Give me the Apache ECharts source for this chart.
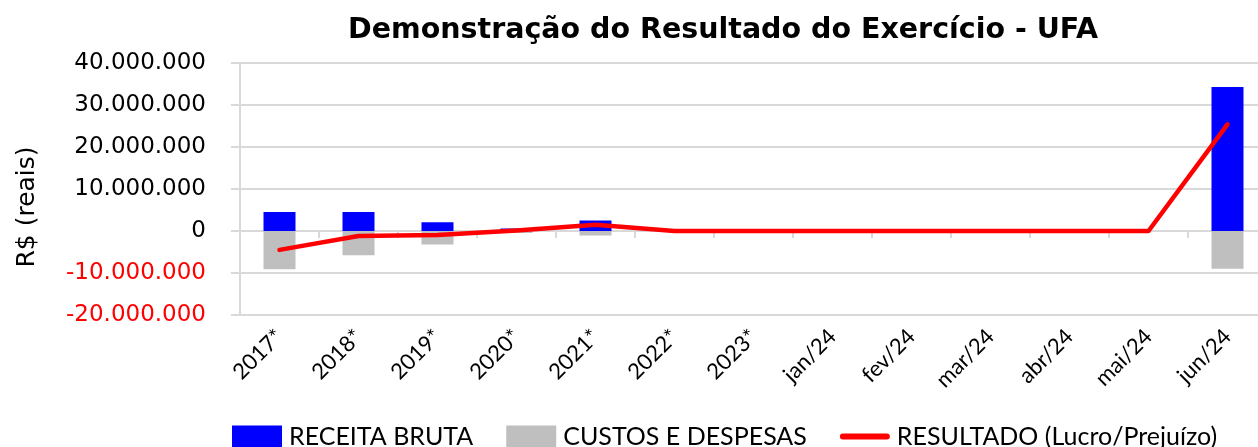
<!DOCTYPE html>
<html>
<head>
<meta charset="utf-8">
<script src="https://cdn.jsdelivr.net/npm/echarts@6/dist/echarts.min.js"></script>
<style>
  html, body { margin: 0; padding: 0; background: #fff; }
  #main { width: 1258px; height: 447px; }
</style>
</head>
<body>
<div id="main"></div>
<script>
// dados
const categorias = ['2017*', '2018*', '2019*', '2020*', '2021*', '2022*', '2023*', 'jan/24', 'fev/24', 'mar/24', 'abr/24', 'mai/24', 'jun/24'];
const receitaBruta = [4500000, 4500000, 2100000, 600000, 2500000, 0, 0, 0, 0, 0, 0, 0, 34300000];
const custosDespesas = [-9100000, -5800000, -3200000, -500000, -1100000, 0, 0, 0, 0, 0, 0, 0, -9000000];
const resultado = [-4500000, -1200000, -950000, 100000, 1500000, 0, 0, 0, 0, 0, 0, 0, 25400000];
const ticksY = [-20000000, 40000000, 10000000]; // min, max, intervalo

const fmt = v => v.toString().replace(/\B(?=(\d{3})+(?!\d))/g, '.');

const chart = echarts.init(document.getElementById('main'));

const option = {
    animation: false,
    title: {
        text: 'Demonstração do Resultado do Exercício - UFA',
        left: 343,
        top: 11,
        textStyle: {
            fontFamily: 'DejaVu Sans',
            fontWeight: 'bold',
            fontSize: 28.5,
            color: '#000'
        }
    },
    legend: {
        bottom: -2,
        left: 232,
        padding: 0,
        itemWidth: 50,
        itemHeight: 22,
        itemGap: 33,
        textStyle: {
            fontFamily: 'Lato',
            fontSize: 25,
            color: '#000',
            padding: [0, 0, 0, 2]
        },
        data: [
            { name: 'RECEITA BRUTA', icon: 'rect' },
            { name: 'CUSTOS E DESPESAS', icon: 'rect' },
            {
                name: 'RESULTADO (Lucro/Prejuízo)',
                icon: 'path://M3,0 h44 a3,3 0 0 1 0,6 h-44 a3,3 0 0 1 0,-6 z',
                itemStyle: { color: '#ff0000' }
            }
        ]
    },
    grid: {
        left: 240,
        top: 63,
        width: 1027,
        height: 252,
        outerBoundsMode: 'none'
    },
    xAxis: [
        {
            type: 'category',
            data: categorias,
            position: 'bottom',
            axisLine: { show: false, onZero: false },
            axisTick: { show: false },
            axisLabel: {
                rotate: 45,
                margin: 18,
                fontFamily: 'Lato',
                fontSize: 22,
                color: '#000'
            }
        },
        {
            type: 'category',
            data: categorias,
            position: 'bottom',
            axisLine: { show: true, onZero: true, lineStyle: { color: '#d9d9d9', width: 2 } },
            axisTick: { show: true, length: 7, lineStyle: { color: '#d9d9d9', width: 2 } },
            axisLabel: { show: false }
        }
    ],
    yAxis: {
        type: 'value',
        min: ticksY[0],
        max: ticksY[1],
        interval: ticksY[2],
        name: 'R$ (reais)',
        nameLocation: 'middle',
        nameRotate: 90,
        nameGap: 200,
        nameTextStyle: {
            fontFamily: 'DejaVu Sans',
            fontSize: 25,
            color: '#000',
            padding: [0, 36, 0, 0]
        },
        axisLine: { show: true, lineStyle: { color: '#d9d9d9', width: 2 } },
        axisTick: { show: true, length: 9, lineStyle: { color: '#d9d9d9', width: 2 } },
        splitLine: { lineStyle: { color: '#d9d9d9', width: 2 } },
        axisLabel: {
            margin: 34,
            fontFamily: 'DejaVu Sans',
            fontSize: 23,
            formatter: v => fmt(v),
            color: v => (v < 0 ? '#ff0000' : '#000')
        }
    },
    series: [
        {
            name: 'RECEITA BRUTA',
            type: 'bar',
            stack: 'dre',
            barWidth: 32,
            itemStyle: { color: '#0000ff' },
            data: receitaBruta
        },
        {
            name: 'CUSTOS E DESPESAS',
            type: 'bar',
            stack: 'dre',
            barWidth: 32,
            itemStyle: { color: '#bfbfbf' },
            data: custosDespesas
        },
        {
            name: 'RESULTADO (Lucro/Prejuízo)',
            type: 'line',
            showSymbol: false,
            symbol: 'none',
            z: 5,
            lineStyle: { color: '#ff0000', width: 4.5, cap: 'round', join: 'round' },
            itemStyle: { color: '#ff0000' },
            data: resultado
        }
    ]
};

chart.setOption(option);
</script>
</body>
</html>
